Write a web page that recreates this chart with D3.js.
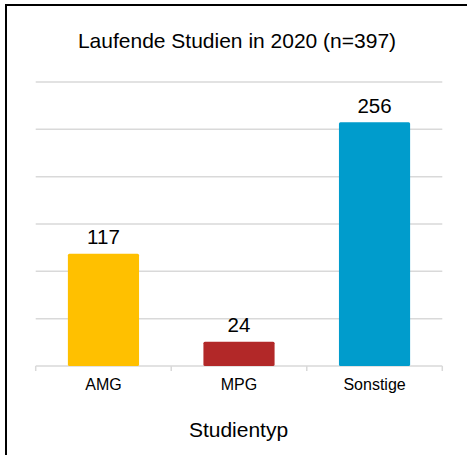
<!DOCTYPE html>
<html><head><meta charset="utf-8">
<script src="https://cdn.jsdelivr.net/npm/d3@7"></script>
<style>body{margin:0;background:#fff}svg{display:block;font-family:"Liberation Sans",Arial,sans-serif}</style>
</head><body>
<script>
const categories = ["AMG","MPG","Sonstige"];
const values = [117,24,256];
const colors = ["#FFC000","#B22828","#009CCC"];
const yTicks = [0,50,100,150,200,250,300];
const title = "Laufende Studien in 2020 (n=397)";
const xTitle = "Studientyp";

const W=467,H=455;
const svg=d3.select("body").append("svg").attr("width",W).attr("height",H);
svg.append("rect").attr("width",W).attr("height",H).attr("fill","#fff");
// frame: left and top lines
svg.append("line").attr("x1",6).attr("x2",6).attr("y1",4).attr("y2",H).attr("stroke","#000").attr("stroke-width",2);
svg.append("line").attr("x1",5).attr("x2",W).attr("y1",5).attr("y2",5).attr("stroke","#000").attr("stroke-width",2);

const L=35.7,R=442.3,T=82,B=366;
const x=d3.scaleBand().domain(categories).range([L,R]).paddingInner(0.475).paddingOuter(0.2375);
const y=d3.scaleLinear().domain([0,300]).range([B,T]);

svg.append("g").selectAll("line").data(yTicks.filter(d=>d>0)).join("line")
 .attr("x1",L).attr("x2",R).attr("y1",d=>y(d)).attr("y2",d=>y(d))
 .attr("stroke","#d9d9d9").attr("stroke-width",1.5);

const xa=svg.append("g").attr("transform",`translate(0,${B})`)
 .call(d3.axisBottom(x).tickSize(0).tickPadding(0));
xa.select(".domain").remove();
xa.selectAll("text").attr("dy",null).attr("y",24).attr("font-size",16).attr("fill","#000").attr("font-family","Liberation Sans, Arial, sans-serif");

// axis baseline & category separators
svg.append("line").attr("x1",L).attr("x2",R).attr("y1",B).attr("y2",B).attr("stroke","#d9d9d9").attr("stroke-width",1.5);
const bounds=[L].concat(categories.map(c=>x(c)+x.bandwidth()+x.step()*x.paddingInner()/2));
bounds[bounds.length-1]=R;
svg.append("g").selectAll("line").data(bounds).join("line")
 .attr("x1",d=>d).attr("x2",d=>d).attr("y1",B).attr("y2",B+5)
 .attr("stroke","#d9d9d9").attr("stroke-width",1.5);

svg.append("g").selectAll("rect").data(values).join("rect")
 .attr("x",(d,i)=>x(categories[i])).attr("width",x.bandwidth())
 .attr("y",d=>y(d)-1.5).attr("height",d=>B-y(d)+1.5)
 .attr("rx",1.5).attr("fill",(d,i)=>colors[i]);

svg.append("g").selectAll("text").data(values).join("text")
 .attr("x",(d,i)=>x(categories[i])+x.bandwidth()/2).attr("y",d=>y(d)-11)
 .attr("text-anchor","middle").attr("font-size",20.5).attr("fill","#000").text(d=>d);

svg.append("text").attr("x",237).attr("y",48).attr("text-anchor","middle")
 .attr("font-size",21).attr("fill","#000").text(title);
svg.append("text").attr("x",238.5).attr("y",437).attr("text-anchor","middle")
 .attr("font-size",21).attr("fill","#000").text(xTitle);
</script>
</body></html>
